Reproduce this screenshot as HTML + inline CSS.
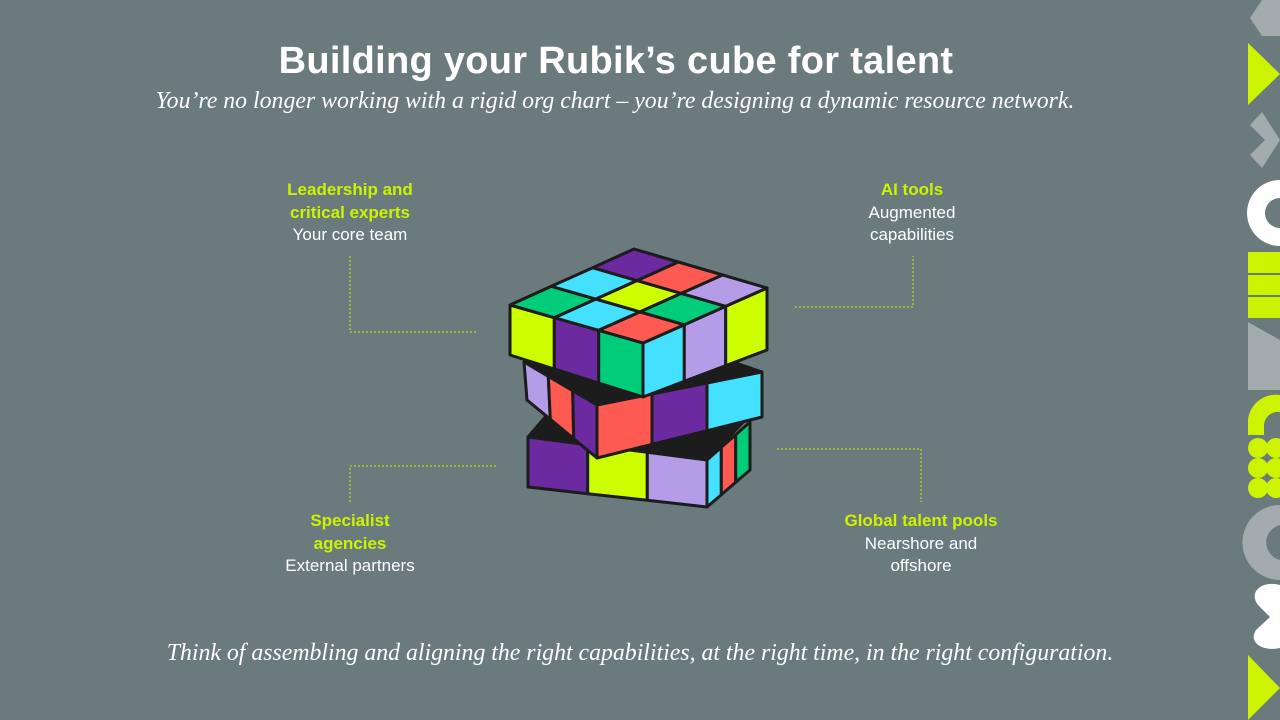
<!DOCTYPE html>
<html><head><meta charset="utf-8"><style>
body{margin:0;width:1280px;height:720px;background:#6a7a7d;overflow:hidden;position:relative;font-family:"Liberation Sans",sans-serif}
.t{position:absolute;left:0;width:1232px;text-align:center;color:#fff}
h1{position:absolute;left:0;width:1232px;text-align:center;top:40px;margin:0;font-size:38px;font-weight:bold;color:#fff;letter-spacing:0.3px}
.sub{font-family:"Liberation Serif",serif;font-style:italic;font-size:23.8px}
.lab{position:absolute;width:240px;text-align:center;font-size:17px;line-height:22.5px;color:#fff}
.lab b{color:#ccf400}
</style></head><body>
<h1>Building your Rubik’s cube for talent</h1>
<div class="t sub" style="top:88px;width:1230px">You’re no longer working with a rigid org chart – you’re designing a dynamic resource network.</div>
<div class="t sub" style="top:640px;width:1280px">Think of assembling and aligning the right capabilities, at the right time, in the right configuration.</div>
<div class="lab" style="left:230px;top:179px"><b>Leadership and<br>critical experts</b><br>Your core team</div>
<div class="lab" style="left:792px;top:179px"><b>AI tools</b><br>Augmented<br>capabilities</div>
<div class="lab" style="left:230px;top:510px"><b>Specialist<br>agencies</b><br>External partners</div>
<div class="lab" style="left:801px;top:510px"><b>Global talent pools</b><br>Nearshore and<br>offshore</div>
<svg width="1280" height="720" style="position:absolute;left:0;top:0">
<g stroke="#ccf400" stroke-width="1" stroke-dasharray="2,2" fill="none">
<polyline points="350,256 350,332 478,332"/>
<polyline points="795,307 913,307 913,256"/>
<polyline points="350,502 350,466 497,466"/>
<polyline points="777,449 921,449 921,502"/>
</g>
<g id="cube" stroke="#1c1c1c" stroke-width="3" stroke-linejoin="round"></g>
<g>
<polygon points="1280,0 1262,0 1250,18 1262,36 1280,36" fill="#a3abad"/>
<polygon points="1248,43 1280,74 1248,105" fill="#ccf400"/>
<polygon points="1250,125 1262,112 1280,140 1262,168 1250,155 1265,140" fill="#a3abad"/>
<path d="M1280,180 A33,33 0 0 0 1280,246 L1280,228 A15,15 0 0 1 1280,198 Z" fill="#fff"/>
<rect x="1248" y="252" width="32" height="21" fill="#ccf400"/>
<rect x="1248" y="275" width="32" height="20" fill="#ccf400"/>
<rect x="1248" y="297" width="32" height="21" fill="#ccf400"/>
<path d="M1248,322 L1280,340 L1280,390 L1248,390 Z" fill="#a3abad"/>
<path d="M1248,435 L1248,420 A28,28 0 0 1 1280,395 L1280,412 A14,14 0 0 0 1264,425 L1264,435 Z" fill="#ccf400"/>
<g fill="#ccf400"><circle cx="1258" cy="448" r="10"/><circle cx="1276" cy="448" r="10"/><circle cx="1258" cy="468" r="10"/><circle cx="1276" cy="468" r="10"/><circle cx="1258" cy="488" r="10"/><circle cx="1276" cy="488" r="10"/></g>
<path d="M1280,505 A37,37 0 0 0 1280,580 L1280,560 A18,18 0 0 1 1280,525 Z" fill="#a3abad"/>
<path d="M1280,585 C1262,580 1248,592 1258,605 L1270,617 L1256,630 C1248,642 1262,652 1280,648 Z" fill="#fff"/>
<polygon points="1248,655 1280,688 1248,720" fill="#ccf400"/>
</g>
</svg>
<script>
var C={y:"#ccff00",p:"#6b2aa0",g:"#00cc7a",c:"#44e0ff",r:"#ff5a52",l:"#b49ce8",k:"#1c1c1c"};
var g=document.getElementById('cube'),s='';
function lerp(a,b,t){return[a[0]+(b[0]-a[0])*t,a[1]+(b[1]-a[1])*t]}
function bl(p00,p10,p01,p11,u,v){return lerp(lerp(p00,p10,u),lerp(p01,p11,u),v)}
function quad(p00,p10,p01,p11,cols){var R=cols.length,Cn=cols[0].length;
for(var j=0;j<R;j++)for(var i=0;i<Cn;i++){var pts=[bl(p00,p10,p01,p11,i/Cn,j/R),bl(p00,p10,p01,p11,(i+1)/Cn,j/R),bl(p00,p10,p01,p11,(i+1)/Cn,(j+1)/R),bl(p00,p10,p01,p11,i/Cn,(j+1)/R)];
s+='<polygon fill="'+C[cols[j][i]]+'" points="'+pts.map(function(p){return p[0].toFixed(1)+','+p[1].toFixed(1)}).join(' ')+'"/>';}}
function poly(pts,f){s+='<polygon fill="'+f+'" points="'+pts+'"/>'}
poly("528,437 560,400 750,415 707,460",C.k);
quad([528,437],[707,460],[528,487],[707,507],[["p","y","l"]]);
quad([707,460],[750,422],[707,507],[750,470],[["c","r","g"]]);
poly("524,362 640,330 762,372 597,405",C.k);
quad([524,362],[597,405],[527,400],[597,458],[["l","r","p"]]);
quad([597,405],[762,372],[597,458],[762,417],[["r","p","c"]]);
quad([510,305],[643,343],[510,355],[643,397],[["y","p","g"]]);
quad([643,343],[767,288],[643,397],[767,350],[["c","l","y"]]);
var L=[510,305],B=[634,249],F=[643,343],R=[767,288];
quad(L,B,F,R,[["g","c","p"],["c","y","r"],["r","g","l"]]);
g.innerHTML=s;
</script>
</body></html>
